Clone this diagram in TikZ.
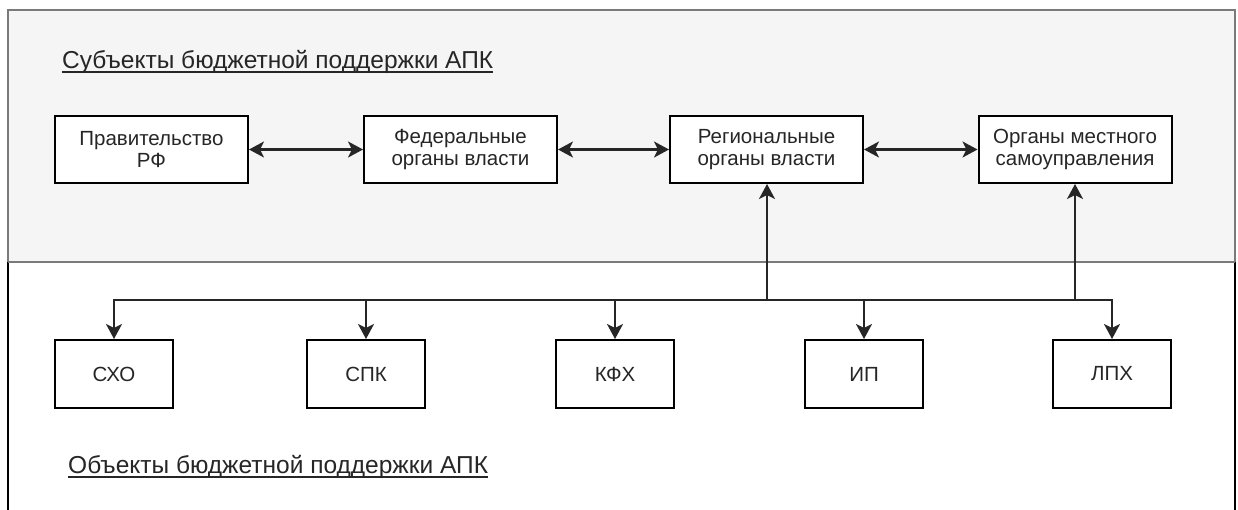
\documentclass[tikz,border=0pt]{standalone}
\usepackage{fontspec}
\setmainfont{Liberation Sans}
\usetikzlibrary{arrows.meta}
\definecolor{txt}{HTML}{262626}
\definecolor{topfill}{HTML}{F5F5F5}
\definecolor{frame}{HTML}{7A7A7A}
\tikzset{
  box/.style={draw=black, line width=2pt, fill=white, minimum width=193pt, minimum height=67pt, inner sep=0pt, align=center, text=txt, font=\fontsize{20.5}{22.5}\selectfont},
  sbox/.style={box, minimum width=118pt, minimum height=68pt},
  conn/.style={draw=black!85, line width=2.2pt},
  arr/.style={conn, -{Stealth[length=15pt,width=16pt,inset=4pt]}},
  darr/.style={conn, {Stealth[length=15pt,width=16pt,inset=4pt]}-{Stealth[length=15pt,width=16pt,inset=4pt]}},
  ttl/.style={anchor=base west, inner sep=0pt, text=txt, font=\fontsize{24.5}{28}\selectfont},
  uline/.style={draw=txt, line width=1.3pt}
}
\begin{document}
\begin{tikzpicture}[x=1pt,y=-1pt]
\useasboundingbox (0,0) rectangle (1238,509);
\fill[white] (0,0) rectangle (1238,509);
% regions
\draw[frame, line width=1.8pt, fill=topfill] (8,10) rectangle (1235,262);
\draw[black, line width=1.8pt] (8,262) -- (8,515);
\draw[black, line width=1.8pt] (1235,262) -- (1235,515);
\draw[frame, line width=1.8pt] (8,262) -- (1235,262);
% titles
\node[ttl] (t1) at (62,68) {Субъекты бюджетной поддержки АПК};
\draw[uline] ([yshift=-4pt]t1.base west) -- ([yshift=-4pt]t1.base east);
\node[ttl] (t2) at (68,473) {Объекты бюджетной поддержки АПК};
\draw[uline] ([yshift=-4pt]t2.base west) -- ([yshift=-4pt]t2.base east);
% top boxes
\node[box] (gov) at (151.5,149.5) {Правительство\\РФ};
\node[box] (fed) at (460.5,149.5) {Федеральные\\органы власти};
\node[box] (reg) at (766.5,149.5) {Региональные\\органы власти};
\node[box] (loc) at (1075,149.5) {Органы местного\\самоуправления};
% bottom boxes
\node[sbox] (sxo) at (114,374) {СХО};
\node[sbox] (spk) at (366,374) {СПК};
\node[sbox] (kfx) at (615,374) {КФХ};
\node[sbox] (ip)  at (864,374) {ИП};
\node[sbox] (lpx) at (1112,374) {ЛПХ};
% horizontal double arrows
\draw[darr] (gov.east) -- (fed.west);
\draw[darr] (fed.east) -- (reg.west);
\draw[darr] (reg.east) -- (loc.west);
% bus
\coordinate (j1) at (767,300);
\coordinate (j2) at (1075,300);
\draw[arr] (j1) -- (reg.south -| j1);
\draw[arr] (j2) -- (loc.south -| j2);
\draw[arr] (j1) -| (sxo.north);
\draw[arr] (j1) -| (spk.north);
\draw[arr] (j1) -| (kfx.north);
\draw[arr] (j1) -| (ip.north);
\draw[arr] (j1) -| (lpx.north);
\end{tikzpicture}
\end{document}
